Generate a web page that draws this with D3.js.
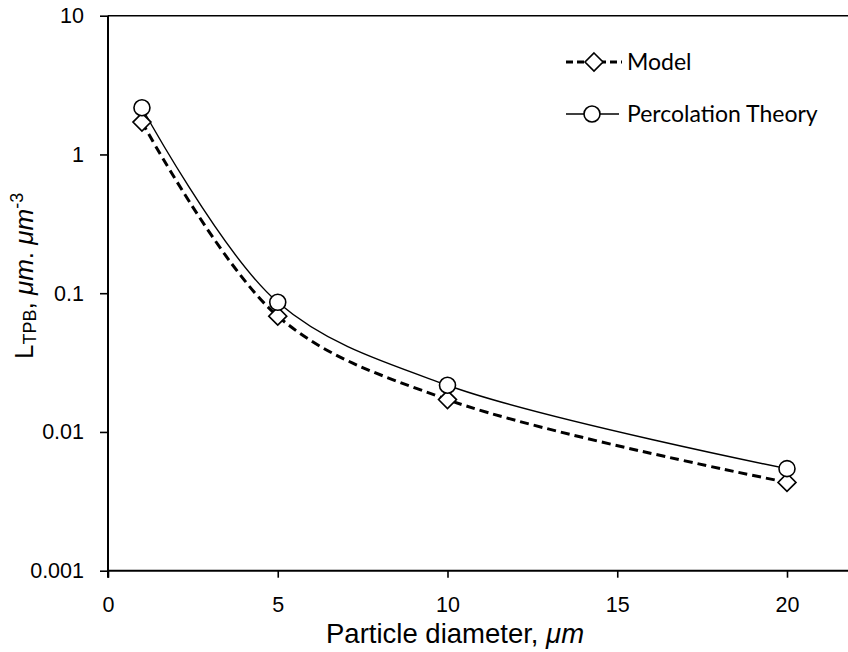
<!DOCTYPE html>
<html>
<head>
<meta charset="utf-8">
<script src="https://cdn.jsdelivr.net/npm/d3@7"></script>
<style>
  html, body { margin: 0; padding: 0; background: #fff; }
  svg { display: block; }
</style>
</head>
<body>
<svg id="chart" width="848" height="652"></svg>
<script>
// ---- data ----
const diameters = [1, 5, 10, 20];
const modelValues = [1.71, 0.0683, 0.0171, 0.00433];
const percolationValues = [2.17, 0.086, 0.0217, 0.00544];
const xTicks = [0, 5, 10, 15, 20];
const yTicks = [0.001, 0.01, 0.1, 1, 10];
const yTickLabels = ["0.001", "0.01", "0.1", "1", "10"];
const seriesNames = ["Model", "Percolation Theory"];

(function () {
// ---- layout ----
const svg = d3.select("#chart");
const W = 848, H = 652;
const plotLeft = 108, plotTop = 15.7, plotBottom = 570.7;
const pxPerUnit = 33.95;
const x = d3.scaleLinear().domain([0, 22]).range([plotLeft, plotLeft + 22 * pxPerUnit]);
const y = d3.scaleLog().domain([0.001, 10]).range([plotBottom, plotTop]);
const axisFont = "'Liberation Sans', Arial, sans-serif";

svg.append("rect").attr("width", W).attr("height", H).attr("fill", "#fff");

// top border
svg.append("line").attr("x1", plotLeft).attr("x2", W).attr("y1", plotTop).attr("y2", plotTop)
  .attr("stroke", "#000").attr("stroke-width", 1.6);

// y axis
const yAxis = d3.axisLeft(y).tickValues(yTicks)
  .tickFormat((d, i) => yTickLabels[i]).tickSize(8).tickPadding(16);
const gy = svg.append("g").attr("transform", `translate(${plotLeft},0)`).call(yAxis);
gy.select(".domain").remove();
gy.append("line").attr("x1", 0).attr("x2", 0).attr("y1", plotTop).attr("y2", plotBottom + 7)
  .attr("stroke", "#000").attr("stroke-width", 2);
gy.selectAll(".tick line").attr("stroke", "#000").attr("stroke-width", 1.6);
gy.selectAll(".tick text").attr("fill", "#000")
  .style("font-family", axisFont).style("font-size", "21.5px");

// x axis
const xAxis = d3.axisBottom(x).tickValues(xTicks).tickSize(7).tickPadding(19);
const gx = svg.append("g").attr("transform", `translate(0,${plotBottom})`).call(xAxis);
gx.select(".domain").remove();
gx.append("line").attr("x1", plotLeft).attr("x2", W).attr("y1", 0).attr("y2", 0)
  .attr("stroke", "#000").attr("stroke-width", 2);
gx.selectAll(".tick line").attr("stroke", "#000").attr("stroke-width", 1.6);
gx.selectAll(".tick text").attr("fill", "#000")
  .style("font-family", axisFont).style("font-size", "21.5px");

// x axis title
const xt = svg.append("text").attr("x", 326).attr("y", 643).attr("text-anchor", "start")
  .style("font-family", axisFont).style("font-size", "27.5px").attr("fill", "#000");
xt.append("tspan").text("Particle diameter, ");
xt.append("tspan").attr("font-style", "italic").text("μm");

// y axis title
const yt = svg.append("text").attr("transform", "translate(33,359) rotate(-90)")
  .attr("text-anchor", "start")
  .style("font-family", axisFont).style("font-size", "26px").attr("fill", "#000");
yt.append("tspan").text("L");
yt.append("tspan").attr("font-size", "18px").attr("dy", 3).text("TPB");
yt.append("tspan").attr("dy", -3).text(", ");
yt.append("tspan").attr("font-style", "italic").text("μm");
yt.append("tspan").text(". ");
yt.append("tspan").attr("font-style", "italic").text("μm");
yt.append("tspan").attr("font-size", "18px").attr("dy", -10).text("-3");

// ---- series ----
const modelData = diameters.map((d, i) => [d, modelValues[i]]);
const percData = diameters.map((d, i) => [d, percolationValues[i]]);
const line = d3.line().x(d => x(d[0])).y(d => y(d[1])).curve(d3.curveCatmullRom.alpha(0.5));

svg.append("path").datum(percData).attr("d", line)
  .attr("fill", "none").attr("stroke", "#000").attr("stroke-width", 1.4);
svg.append("path").datum(modelData).attr("d", line)
  .attr("fill", "none").attr("stroke", "#000").attr("stroke-width", 3)
  .attr("stroke-dasharray", "9,5");

const diamond = (cx, cy, r) => `M${cx},${cy - r}L${cx + r},${cy}L${cx},${cy + r}L${cx - r},${cy}Z`;

svg.selectAll(".dmark").data(modelData).enter().append("path").attr("class", "dmark")
  .attr("d", d => diamond(x(d[0]), y(d[1]), 9))
  .attr("fill", "#fff").attr("stroke", "#000").attr("stroke-width", 1.6);
svg.selectAll(".cmark").data(percData).enter().append("circle").attr("class", "cmark")
  .attr("cx", d => x(d[0])).attr("cy", d => y(d[1])).attr("r", 8)
  .attr("fill", "#fff").attr("stroke", "#000").attr("stroke-width", 1.6);

// ---- legend ----
const legendFont = "Lato, 'Open Sans', sans-serif";
const lg = svg.append("g");
lg.append("line").attr("x1", 566).attr("x2", 622).attr("y1", 62).attr("y2", 62)
  .attr("stroke", "#000").attr("stroke-width", 3).attr("stroke-dasharray", "7,4");
lg.append("path").attr("d", diamond(594, 62, 9))
  .attr("fill", "#fff").attr("stroke", "#000").attr("stroke-width", 1.6);
lg.append("text").attr("x", 627).attr("y", 62).attr("dy", "0.35em")
  .style("font-family", legendFont).style("font-size", "23px").attr("fill", "#000").text(seriesNames[0]);
lg.append("line").attr("x1", 566).attr("x2", 619).attr("y1", 114).attr("y2", 114)
  .attr("stroke", "#000").attr("stroke-width", 1.4);
lg.append("circle").attr("cx", 592).attr("cy", 114).attr("r", 8)
  .attr("fill", "#fff").attr("stroke", "#000").attr("stroke-width", 1.6);
lg.append("text").attr("x", 627).attr("y", 114).attr("dy", "0.35em")
  .style("font-family", legendFont).style("font-size", "23px").attr("fill", "#000").text(seriesNames[1]);
})();
</script>
</body>
</html>
